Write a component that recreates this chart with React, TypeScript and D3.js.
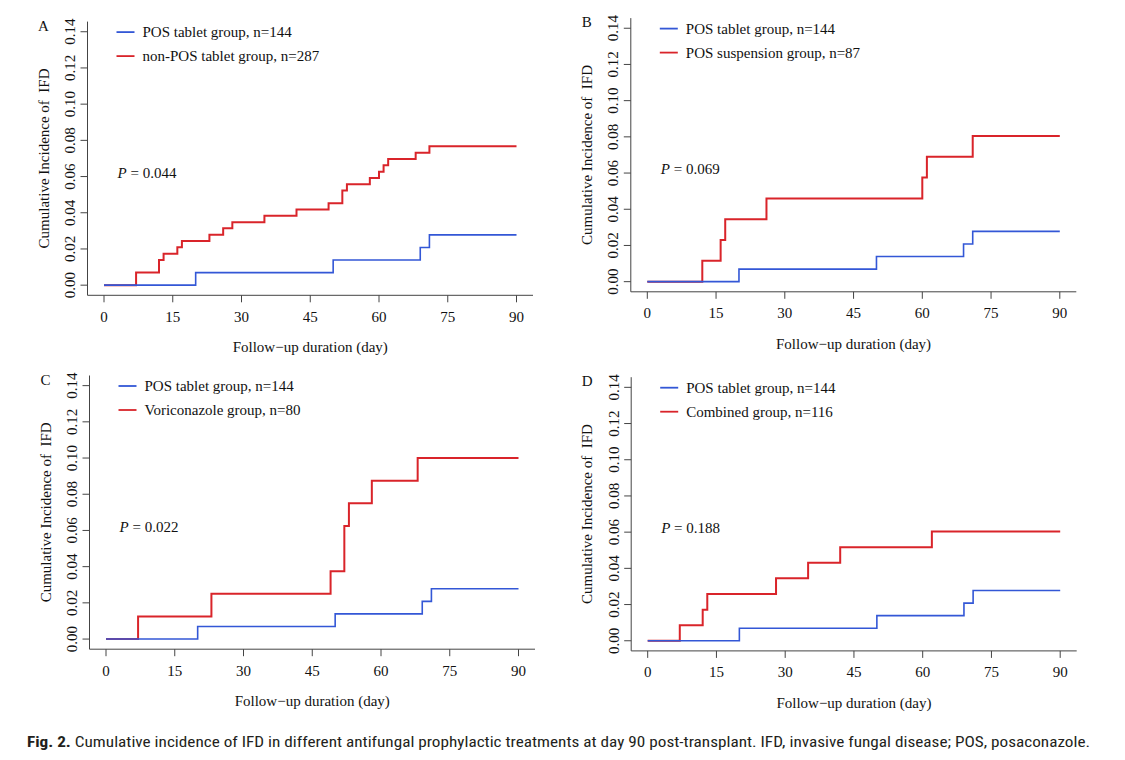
import React from "react";
import * as d3 from "d3";

// ---- data ----
const xTicks = [0, 15, 30, 45, 60, 75, 90];
const yTicks = [0, 0.02, 0.04, 0.06, 0.08, 0.1, 0.12, 0.14];
const yTickLabels = ["0.00", "0.02", "0.04", "0.06", "0.08", "0.10", "0.12", "0.14"];

const tabletLabel = "POS tablet group, n=144";
const tabletDays = [0, 20, 50, 69, 71, 90];
const tabletCI = [0, 0.0069, 0.0139, 0.0208, 0.0278, 0.0278];

const nonTabletLabel = "non-POS tablet group, n=287";
const nonTabletDays = [0, 7, 12, 13, 16, 17, 23, 26, 28, 35, 42, 49, 52, 53, 58, 60, 61, 62, 68, 71, 90];
const nonTabletCI = [0, 0.0070, 0.0139, 0.0174, 0.0209, 0.0244, 0.0279, 0.0314, 0.0348, 0.0383, 0.0418, 0.0453, 0.0523, 0.0557, 0.0592, 0.0627, 0.0662, 0.0697, 0.0732, 0.0767, 0.0767];

const suspensionLabel = "POS suspension group, n=87";
const suspensionDays = [0, 12, 16, 17, 26, 60, 61, 71, 90];
const suspensionCI = [0, 0.0115, 0.0230, 0.0345, 0.0460, 0.0575, 0.0690, 0.0805, 0.0805];

const voriLabel = "Voriconazole group, n=80";
const voriDays = [0, 7, 23, 49, 52, 53, 58, 68, 90];
const voriCI = [0, 0.0125, 0.025, 0.0375, 0.0625, 0.075, 0.0875, 0.1, 0.1];

const combinedLabel = "Combined group, n=116";
const combinedDays = [0, 7, 12, 13, 28, 35, 42, 62, 90];
const combinedCI = [0, 0.0086, 0.0172, 0.0259, 0.0345, 0.0431, 0.0517, 0.0603, 0.0603];

const panelLetters = ["A", "B", "C", "D"];
const pValues = ["0.044", "0.069", "0.022", "0.188"];
const compLabels = [nonTabletLabel, suspensionLabel, voriLabel, combinedLabel];
const compDays = [nonTabletDays, suspensionDays, voriDays, combinedDays];
const compCI = [nonTabletCI, suspensionCI, voriCI, combinedCI];

const xTitle = "Follow\u2212up duration (day)";
const yTitle = "Cumulative Incidence of  IFD";
const caption = "Cumulative incidence of IFD in different antifungal prophylactic treatments at day 90 post-transplant. IFD, invasive fungal disease; POS, posaconazole.";

// ---- layout ----
const W = 1125;
const H = 760;
const PW = 445.5;
const PH = 273.7;
const origins = [
  [87.5, 21.6],
  [630.8, 18.1],
  [89.5, 375.5],
  [631.2, 377.2],
];
const BLUE = "#3357d6";
const RED = "#d9242a";
const AXIS = "#444";
const SERIF = "'Liberation Serif', 'Times New Roman', 'DejaVu Serif', serif";

const x = d3.scaleLinear().domain([-3.6, 93.6]).range([0, PW]);
const y = d3.scaleLinear().domain([-0.0056, 0.1456]).range([PH, 0]);
const step = d3
  .line<[number, number]>()
  .x((d) => x(d[0]))
  .y((d) => y(d[1]))
  .curve(d3.curveStepAfter);

function Panel({ i }: { i: number }) {
  const [ox, oy] = origins[i];
  const blue = step(tabletDays.map((d, k) => [d, tabletCI[k]] as [number, number])) || "";
  const red = step(compDays[i].map((d, k) => [d, compCI[i][k]] as [number, number])) || "";
  const fs = 15;
  return (
    <g transform={`translate(${ox},${oy})`} fontFamily={SERIF} fontSize={fs} fill="#111">
      {/* axes */}
      <line x1={0} x2={PW} y1={PH} y2={PH} stroke={AXIS} strokeWidth={1} />
      <line x1={0} x2={0} y1={0} y2={PH} stroke={AXIS} strokeWidth={1} />
      {xTicks.map((t) => (
        <g key={"x" + t}>
          <line x1={x(t)} x2={x(t)} y1={PH} y2={PH + 7} stroke={AXIS} strokeWidth={1} />
          <text x={x(t)} y={PH + 21.5} textAnchor="middle" dominantBaseline="central">
            {t}
          </text>
        </g>
      ))}
      {yTicks.map((t, k) => (
        <g key={"y" + t}>
          <line x1={-7} x2={0} y1={y(t)} y2={y(t)} stroke={AXIS} strokeWidth={1} />
          <text
            transform={`translate(${-17.6},${y(t)}) rotate(-90)`}
            textAnchor="middle"
            dominantBaseline="central"
          >
            {yTickLabels[k]}
          </text>
        </g>
      ))}
      <text x={PW / 2} y={PH + 52} textAnchor="middle" dominantBaseline="central">
        {xTitle}
      </text>
      <text
        transform={`translate(${-43.8},${PH / 2}) rotate(-90)`}
        textAnchor="middle"
        dominantBaseline="central"
        style={{ whiteSpace: "pre" }}
      >
        {yTitle}
      </text>
      <text x={-44} y={4} textAnchor="middle" dominantBaseline="central">
        {panelLetters[i]}
      </text>
      {/* curves */}
      <path d={red} fill="none" stroke={RED} strokeWidth={2} />
      <path d={blue} fill="none" stroke={BLUE} strokeWidth={1.6} />
      {/* legend */}
      <line x1={29} x2={47} y1={10.5} y2={10.5} stroke={BLUE} strokeWidth={1.8} />
      <text x={55} y={10.5} dominantBaseline="central">
        {tabletLabel}
      </text>
      <line x1={29} x2={47} y1={34.5} y2={34.5} stroke={RED} strokeWidth={1.8} />
      <text x={55} y={34.5} dominantBaseline="central">
        {compLabels[i]}
      </text>
      <text x={30} y={151} dominantBaseline="central">
        <tspan fontStyle="italic">P</tspan>
        <tspan> = {pValues[i]}</tspan>
      </text>
    </g>
  );
}

export default function App() {
  return (
    <svg
      width={W}
      height={H}
      viewBox={`0 0 ${W} ${H}`}
      style={{ position: "absolute", left: 0, top: 0, background: "#fff" }}
    >
      <rect width={W} height={H} fill="#fff" />
      {[0, 1, 2, 3].map((i) => (
        <Panel key={i} i={i} />
      ))}
      <text
        x={27}
        y={747}
        fontFamily="'Liberation Sans Narrow', 'Roboto Condensed', Lato, 'Liberation Sans', sans-serif"
        fontSize={15}
        fill="#231f20"
        textLength={1063}
        lengthAdjust="spacingAndGlyphs"
      >
        <tspan fontWeight="bold">Fig. 2.</tspan>
        <tspan> {caption}</tspan>
      </text>
    </svg>
  );
}
